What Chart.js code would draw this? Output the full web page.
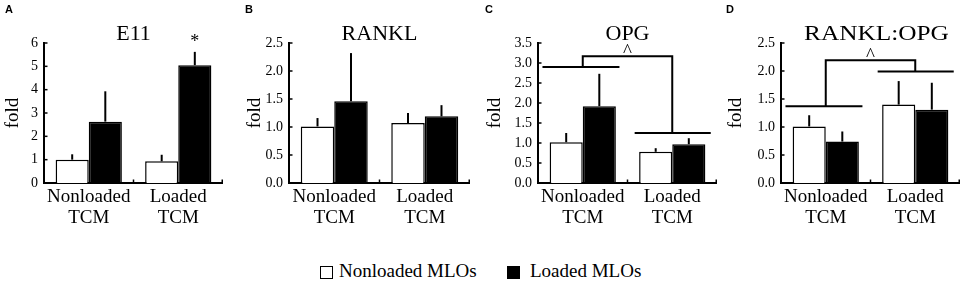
<!DOCTYPE html>
<html>
<head>
<meta charset="utf-8">
<script src="https://cdn.jsdelivr.net/npm/chart.js@4.4.1/dist/chart.umd.min.js"></script>
<style>
  body { margin: 0; width: 964px; height: 283px; background: #fff; position: relative; overflow: hidden;
         font-family: "Liberation Serif", "Times New Roman", serif; color: #000; }
  .panel { position: absolute; top: 0; height: 240px; }
  .letter { position: absolute; top: 3px; font: bold 11px "Liberation Sans", Arial, sans-serif; }
  .box { position: absolute; top: 266px; width: 11px; height: 11px; border: 1.5px solid #000; }
  .label { position: absolute; top: 260px; font-size: 19px; line-height: 22px; white-space: nowrap; }
</style>
</head>
<body>
<div id="root"></div>
<script>
const categories = [["Nonloaded", "TCM"], ["Loaded", "TCM"]];
const panelLetters = ["A", "B", "C", "D"];
const panelTitles = ["E11", "RANKL", "OPG", "RANKL:OPG"];
const seriesNames = ["Nonloaded MLOs", "Loaded MLOs"];

// fold values per panel: [Nonloaded TCM, Loaded TCM]
const nonloadedMLOs = [[1.0, 0.93], [1.01, 1.07], [1.02, 0.78], [1.01, 1.40]];
const nonloadedSD   = [[0.23, 0.28], [0.15, 0.18], [0.23, 0.09], [0.20, 0.42]];
const loadedMLOs    = [[2.63, 5.05], [1.46, 1.19], [1.92, 0.97], [0.74, 1.31]];
const loadedSD      = [[1.30, 0.57], [0.86, 0.20], [0.81, 0.15], [0.18, 0.48]];

const yMax = [6, 2.5, 3.5, 2.5];
const yStep = [1, 0.5, 0.5, 0.5];
const yDecimals = [0, 1, 1, 1];

// bracket levels: [over Nonloaded TCM, over Loaded TCM, connector]
const brackets = [null, null, [2.9, 1.25, 3.17], [1.37, 1.99, 2.19]];
// "*" over Loaded MLOs bars
const starLoaded = [[false, true], [false, false], [false, false], [false, false]];

// layout (canvas placement)
const panelLeft = [2, 244, 484, 725];
const panelWidth = [221, 226, 233, 235];
const yAxisWidth = [42, 45, 54, 56];
const letterLeft = [5, 245, 485, 726];
const titleShift = [0, 0, 0, 6];
const titleStretch = [1, 1, 1, 1.15];

const SERIF = '"Liberation Serif", "Times New Roman", serif';
Chart.defaults.font.family = SERIF;
Chart.defaults.color = "#000";

const extras = {
  id: "extras",
  afterDatasetsDraw(chart, args, opts) {
    const ctx = chart.ctx, xs = chart.scales.x, ys = chart.scales.y, area = chart.chartArea;
    const p = opts.panel;
    ctx.save();
    ctx.strokeStyle = "#000";
    ctx.fillStyle = "#000";
    ctx.lineCap = "butt";

    // error bars (upper only)
    chart.data.datasets.forEach((ds, di) => {
      chart.getDatasetMeta(di).data.forEach((bar, i) => {
        const top = ys.getPixelForValue(ds.data[i] + ds.sd[i]);
        ctx.lineWidth = 2;
        ctx.beginPath();
        ctx.moveTo(bar.x, bar.y);
        ctx.lineTo(bar.x, top);
        ctx.stroke();
        if (di === 1 && starLoaded[p][i]) {
          ctx.font = "18px " + SERIF;
          ctx.textAlign = "center";
          ctx.textBaseline = "alphabetic";
          ctx.fillText("*", bar.x, top - 5);
        }
      });
    });

    // inward tick marks
    ctx.lineWidth = 1.5;
    ys.ticks.forEach(t => {
      const py = ys.getPixelForValue(t.value);
      ctx.beginPath();
      ctx.moveTo(area.left, py);
      ctx.lineTo(area.left + 3.5, py);
      ctx.stroke();
    });
    const cw = xs.width / categories.length;
    for (let i = 1; i <= categories.length; i++) {
      const px = Math.min(area.left + cw * i, area.right - 0.75);
      ctx.beginPath();
      ctx.moveTo(px, area.bottom);
      ctx.lineTo(px, area.bottom - 3.5);
      ctx.stroke();
    }

    // significance bracket
    const b = brackets[p];
    if (b) {
      const c0 = xs.getPixelForValue(0), c1 = xs.getPixelForValue(1);
      const y0 = ys.getPixelForValue(b[0]), y1 = ys.getPixelForValue(b[1]), yc = ys.getPixelForValue(b[2]);
      ctx.lineWidth = 2;
      ctx.beginPath();
      ctx.moveTo(c0 - 0.45 * cw, y0); ctx.lineTo(c0 + 0.41 * cw, y0);
      ctx.moveTo(c1 - 0.42 * cw, y1); ctx.lineTo(c1 + 0.43 * cw, y1);
      ctx.moveTo(c0, y0); ctx.lineTo(c0, yc); ctx.lineTo(c1, yc); ctx.lineTo(c1, y1);
      ctx.stroke();
      ctx.font = "19px " + SERIF;
      ctx.textAlign = "center";
      ctx.textBaseline = "alphabetic";
      ctx.fillText("^", (c0 + c1) / 2, yc + 1);
    }

    // panel title
    ctx.font = "22px " + SERIF;
    ctx.textAlign = "center";
    ctx.textBaseline = "alphabetic";
    ctx.translate((area.left + area.right) / 2 + titleShift[p], 40);
    ctx.scale(titleStretch[p], 1);
    ctx.fillText(panelTitles[p], 0, 0);
    ctx.restore();
  }
};

const root = document.getElementById("root");

panelTitles.forEach((title, p) => {
  const wrap = document.createElement("div");
  wrap.className = "panel";
  wrap.style.left = panelLeft[p] + "px";
  wrap.style.width = panelWidth[p] + "px";
  const canvas = document.createElement("canvas");
  wrap.appendChild(canvas);
  root.appendChild(wrap);

  const letter = document.createElement("div");
  letter.className = "letter";
  letter.style.left = letterLeft[p] + "px";
  letter.textContent = panelLetters[p];
  root.appendChild(letter);

  new Chart(canvas, {
    type: "bar",
    data: {
      labels: categories,
      datasets: [
        { label: seriesNames[0], data: nonloadedMLOs[p], sd: nonloadedSD[p],
          backgroundColor: "#fff", borderColor: "#000", borderWidth: 1.5 },
        { label: seriesNames[1], data: loadedMLOs[p], sd: loadedSD[p],
          backgroundColor: "#000", borderColor: "#000", borderWidth: 1.5 }
      ]
    },
    options: {
      responsive: true,
      maintainAspectRatio: false,
      animation: false,
      layout: { padding: { top: 43, right: 0, bottom: 0, left: 0 } },
      datasets: { bar: { categoryPercentage: 0.74, barPercentage: 1.0 } },
      plugins: {
        legend: { display: false },
        title: { display: false },
        tooltip: { enabled: false },
        extras: { panel: p }
      },
      scales: {
        x: {
          grid: { display: false, drawTicks: false },
          border: { color: "#000", width: 2 },
          ticks: { padding: 4, font: { family: SERIF, size: 19, lineHeight: 1.1 }, maxRotation: 0, autoSkip: false },
          afterFit: s => { s.height = 57; }
        },
        y: {
          min: 0,
          max: yMax[p],
          grid: { display: false, drawTicks: false },
          border: { color: "#000", width: 2 },
          ticks: {
            stepSize: yStep[p],
            padding: 6,
            font: { family: SERIF, size: 14 },
            callback: v => Number(v).toFixed(yDecimals[p])
          },
          title: { display: true, text: "fold", font: { family: SERIF, size: 19, lineHeight: 1.2 }, padding: 0 },
          afterFit: s => { s.width = yAxisWidth[p]; }
        }
      }
    },
    plugins: [extras]
  });
});

// shared legend
const legendBoxes = [{ left: 320, fill: "#fff" }, { left: 507, fill: "#000" }];
const legendLabels = [339, 530];
seriesNames.forEach((name, i) => {
  const box = document.createElement("div");
  box.className = "box";
  box.style.left = legendBoxes[i].left + "px";
  box.style.background = legendBoxes[i].fill;
  root.appendChild(box);
  const lab = document.createElement("div");
  lab.className = "label";
  lab.style.left = legendLabels[i] + "px";
  lab.textContent = name;
  root.appendChild(lab);
});
</script>
</body>
</html>
